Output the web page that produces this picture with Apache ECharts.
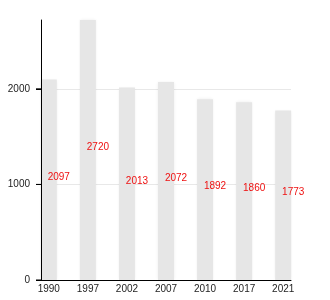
<!DOCTYPE html>
<html>
<head>
<meta charset="utf-8">
<script src="https://cdn.jsdelivr.net/npm/echarts@6/dist/echarts.min.js"></script>
<style>
html,body{margin:0;padding:0;background:#fff;}
#c{width:330px;height:300px;}
</style>
</head>
<body>
<div id="c"></div>
<script>
const categories = ['1990','1997','2002','2007','2010','2017','2021'];
const values = [2097, 2720, 2013, 2072, 1892, 1860, 1773];
const yTicks = [0, 1000, 2000];

const chart = echarts.init(document.getElementById('c'), null, {renderer: 'canvas'});
const idx = categories.map((c, i) => i);
chart.setOption({
  animation: false,
  grid: {left: 41, right: 39, top: 20, bottom: 20, containLabel: false},
  xAxis: {
    type: 'value',
    min: -0.2,
    max: 6.2,
    z: 5,
    axisLine: {show: true, onZero: false, lineStyle: {color: '#000', width: 1}},
    axisTick: {show: false},
    splitLine: {show: false},
    axisLabel: {
      customValues: idx,
      formatter: v => categories[Math.round(v)],
      color: '#222', fontSize: 10, fontFamily: 'Liberation Sans, Arial, sans-serif', margin: 4
    }
  },
  yAxis: {
    type: 'value',
    min: 0,
    max: 2720,
    z: 5,
    axisLine: {show: true, onZero: false, lineStyle: {color: '#000', width: 1}},
    axisTick: {show: true, inside: false, customValues: yTicks, length: 5, lineStyle: {color: '#000', width: 1}},
    splitLine: {show: false},
    axisLabel: {
      customValues: yTicks,
      margin: 0,
      formatter: v => '{v|' + v + '}{t|}',
      rich: {
        v: {color: '#222', fontSize: 10, fontFamily: 'Liberation Sans, Arial, sans-serif', padding: [0, 6, 0, 0], verticalAlign: 'middle'},
        t: {width: 5, height: 1, backgroundColor: '#000', verticalAlign: 'middle'}
      }
    }
  },
  series: [{
    type: 'bar',
    barWidth: 16,
    data: values.map((v, i) => [i, v]),
    itemStyle: {color: '#e6e6e6', shadowBlur: 3, shadowColor: 'rgba(0,0,0,0.08)'},
    label: {
      show: true,
      position: 'inside',
      offset: [10, -3],
      color: '#ee1111',
      fontSize: 10,
      fontFamily: 'Liberation Sans, Arial, sans-serif',
      formatter: p => String(values[p.dataIndex])
    },
    markLine: {
      silent: true,
      symbol: 'none',
      label: {show: false},
      lineStyle: {color: '#e8e8e8', type: 'solid', width: 1},
      z: 0,
      data: yTicks.filter(t => t > 0).map(t => ({yAxis: t}))
    },
    z: 2
  }]
});
</script>
</body>
</html>
